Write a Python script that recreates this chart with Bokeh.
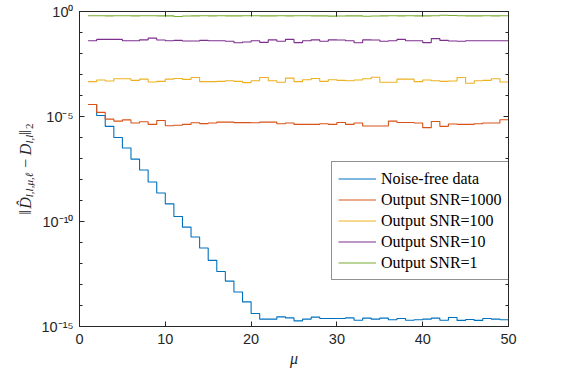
import math
from bokeh.plotting import figure
from bokeh.layouts import row
from bokeh.models import (FixedTicker, LinearAxis, LogAxis, Legend, LegendItem,
                          Range1d, CustomJSTickFormatter)
from bokeh.core.properties import value
from bokeh.embed import file_html
from bokeh.resources import INLINE

# ---------------- data ----------------
mu = list(range(1, 51))

noise_free = [3.72e-5, 1.12e-5, 3.39e-6, 1.0e-6, 3.16e-7, 9.33e-8, 2.82e-8, 7.59e-9, 2.29e-9, 6.92e-10,
              1.74e-10, 5.37e-11, 1.82e-11, 5.5e-12, 1.41e-12, 4.17e-13, 1.45e-13, 4.37e-14, 1.48e-14, 4.17e-15,
              2.24e-15, 2.24e-15, 2.88e-15, 2.57e-15, 1.86e-15, 2.24e-15, 2.79e-15, 2.40e-15, 2.40e-15, 2.40e-15,
              2.57e-15, 2.0e-15, 2.5e-15, 2.24e-15, 2.5e-15, 2.09e-15, 2.40e-15, 2.0e-15, 2.09e-15, 2.24e-15,
              2.5e-15, 2.0e-15, 2.69e-15, 1.95e-15, 2.16e-15, 1.95e-15, 2.40e-15, 2.24e-15, 2.09e-15, 2.16e-15]

snr1000 = [3.72e-5, 1.58e-5, 7.5e-6, 6.0e-6, 6.9e-6, 4.9e-6, 5.6e-6, 4.2e-6, 6.5e-6, 3.6e-6,
           3.8e-6, 4.2e-6, 5.0e-6, 4.6e-6, 4.9e-6, 5.4e-6, 5.4e-6, 5.1e-6, 5.1e-6, 5.0e-6,
           5.4e-6, 5.4e-6, 4.5e-6, 4.9e-6, 4.2e-6, 4.2e-6, 4.2e-6, 4.5e-6, 4.2e-6, 5.2e-6,
           4.2e-6, 4.9e-6, 3.5e-6, 3.5e-6, 3.5e-6, 6.0e-6, 5.2e-6, 5.2e-6, 4.9e-6, 2.95e-6,
           5.8e-6, 3.4e-6, 4.4e-6, 4.2e-6, 4.2e-6, 4.5e-6, 4.9e-6, 4.9e-6, 7.0e-6, 7.0e-6]

snr100 = [4.57e-4, 5.45e-4, 4.9e-4, 6.25e-4, 6.25e-4, 5.25e-4, 6.0e-4, 4.4e-4, 4.73e-4, 6.0e-4,
          6.46e-4, 5.83e-4, 7.2e-4, 4.57e-4, 4.57e-4, 4.73e-4, 5.07e-4, 4.73e-4, 4.12e-4, 5.07e-4,
          7.2e-4, 5.07e-4, 4.27e-4, 6.7e-4, 4.57e-4, 5.63e-4, 6.46e-4, 4.73e-4, 5.63e-4, 5.25e-4,
          5.07e-4, 5.45e-4, 6.25e-4, 7.45e-4, 4.27e-4, 4.27e-4, 6.0e-4, 6.0e-4, 4.57e-4, 5.45e-4,
          5.07e-4, 4.73e-4, 4.9e-4, 7.2e-4, 3.84e-4, 5.07e-4, 5.25e-4, 6.25e-4, 4.4e-4, 5.83e-4]

snr10 = [0.0407, 0.0468, 0.0468, 0.0468, 0.0407, 0.0407, 0.0447, 0.0537, 0.0437, 0.0407,
         0.042, 0.0394, 0.0394, 0.042, 0.0407, 0.0407, 0.038, 0.0324, 0.0355, 0.0407,
         0.034, 0.0447, 0.038, 0.0468, 0.033, 0.0407, 0.0447, 0.038, 0.0447, 0.0437,
         0.0407, 0.0324, 0.0447, 0.0437, 0.038, 0.0407, 0.0468, 0.0407, 0.0407, 0.033,
         0.0513, 0.042, 0.0394, 0.038, 0.0407, 0.0407, 0.0407, 0.0407, 0.0407, 0.0407]

snr1 = [0.63, 0.63, 0.62, 0.63, 0.63, 0.62, 0.63, 0.63, 0.62, 0.62,
        0.58, 0.61, 0.62, 0.63, 0.62, 0.63, 0.62, 0.62, 0.63, 0.63,
        0.62, 0.62, 0.63, 0.62, 0.63, 0.63, 0.62, 0.62, 0.60, 0.61,
        0.62, 0.62, 0.59, 0.61, 0.62, 0.63, 0.62, 0.63, 0.62, 0.62,
        0.63, 0.66, 0.64, 0.63, 0.62, 0.62, 0.63, 0.62, 0.63, 0.63]

series_labels = ["Noise-free data", "Output SNR=1000", "Output SNR=100", "Output SNR=10", "Output SNR=1"]
series_values = [noise_free, snr1000, snr100, snr10, snr1]
series_colors = ["#0072BD", "#D95319", "#EDB120", "#7E2F8E", "#77AC30"]

x_ticks = [0, 10, 20, 30, 40, 50]
y_major = [1e-15, 1e-10, 1e-5, 1e0]
y_major_exp = ["-15", "-10", "-5", "0"]
y_minor = [1e-14, 1e-13, 1e-12, 1e-11, 1e-9, 1e-8, 1e-7, 1e-6, 1e-4, 1e-3, 1e-2, 1e-1]
x_label = "μ"

# ---------------- layout constants ----------------
AX = "#262626"
SANS = "Liberation Sans"
SERIF = "Liberation Serif"
W, H = 562, 384
STRIP = 36                      # narrow strip that carries the y-axis label
LEFT, RIGHT, TOP, BOTTOM = 79, 54, 11, 58
FRAME_H = H - TOP - BOTTOM

# ---------------- main figure ----------------
p = figure(width=W - STRIP, height=H, y_axis_type="log",
           x_range=Range1d(0, 50), y_range=Range1d(1e-15, 1),
           output_backend="svg", toolbar_location=None,
           min_border_left=LEFT - STRIP, min_border_right=RIGHT,
           min_border_top=TOP, min_border_bottom=BOTTOM)
p.background_fill_color = "white"
p.border_fill_color = "white"
p.outline_line_color = AX
p.xgrid.visible = False
p.ygrid.visible = False

xt = FixedTicker(ticks=x_ticks, minor_ticks=[])
yt = FixedTicker(ticks=y_major, minor_ticks=y_minor)
blank = CustomJSTickFormatter(code="return ''")

sup_map = str.maketrans("-0123456789", "\u207b\u2070\u00b9\u00b2\u00b3\u2074\u2075\u2076\u2077\u2078\u2079")
y_tick_labels = ["10" + e.translate(sup_map) for e in y_major_exp]
y_fmt = CustomJSTickFormatter(args=dict(tvals=y_major, tlabels=y_tick_labels), code="""
    for (let i = 0; i < tvals.length; i++) {
        if (Math.abs(Math.log10(tvals[i]) - Math.log10(tick)) < 1e-6) { return tlabels[i]; }
    }
    return '';
""")


def style(ax, shown):
    ax.axis_line_color = AX
    ax.axis_line_width = 1
    ax.major_tick_line_color = AX
    ax.minor_tick_line_color = AX
    ax.major_tick_in = 5
    ax.major_tick_out = 0
    ax.minor_tick_in = 3
    ax.minor_tick_out = 0
    ax.major_label_text_color = AX
    ax.major_label_text_font = SANS
    if shown:
        ax.major_label_text_font_size = "14.5px"
    else:
        ax.formatter = blank
        ax.major_label_text_font_size = "1px"
        ax.major_label_standoff = 0


p.xaxis.ticker = xt
style(p.xaxis[0], True)
p.xaxis.major_label_standoff = 7
p.xaxis.axis_label = x_label
p.xaxis.axis_label_text_font = SERIF
p.xaxis.axis_label_text_font_style = "italic"
p.xaxis.axis_label_text_font_size = "16px"
p.xaxis.axis_label_text_color = AX
p.xaxis.axis_label_standoff = 3

p.yaxis.ticker = yt
style(p.yaxis[0], True)
p.yaxis.formatter = y_fmt
p.yaxis.major_label_standoff = 6

top = LinearAxis(ticker=xt)
style(top, False)
p.add_layout(top, "above")
right = LogAxis(ticker=yt)
style(right, False)
p.add_layout(right, "right")

items = []
for lab, vals, col in zip(series_labels, series_values, series_colors):
    r = p.step(mu, vals, mode="after", line_color=col, line_width=1.1)
    items.append(LegendItem(label=lab, renderers=[r]))

legend = Legend(items=items, location=(252, 46), orientation="vertical",
                label_text_font=SERIF, label_text_font_size="16px", label_text_color="black",
                glyph_width=38, glyph_height=21, label_height=21, label_standoff=5,
                spacing=0, padding=6, margin=0,
                border_line_color=AX, border_line_width=1,
                background_fill_color="white", background_fill_alpha=1)
p.add_layout(legend)

# ---------------- left strip: LaTeX-like y-axis label ----------------
lf = figure(width=STRIP, height=H,
            x_range=Range1d(0, STRIP), y_range=Range1d(0, FRAME_H),
            x_axis_location=None, y_axis_location=None,
            output_backend="svg", toolbar_location=None,
            min_border_left=0, min_border_right=0, min_border_top=TOP, min_border_bottom=BOTTOM)
lf.outline_line_color = None
lf.background_fill_color = "white"
lf.border_fill_color = "white"
lf.grid.visible = False

MAIN, SUB = 16.0, 11.0
w_serif = {"‖": 0.36, "D": 0.722, "\u0302": 0.0, "l": 0.278, ",": 0.25, "μ": 0.56, "ℓ": 0.5,
           "−": 0.564, "2": 0.5}
# (text, size, style, subscript?, gap after in em of main size)
pieces = [("‖", MAIN, "normal", False, 0.0), ("D\u0302", MAIN, "italic", False, 0.0),
          ("l,l,μ,ℓ", SUB, "italic", True, 0.22), ("−", MAIN, "normal", False, 0.22),
          ("D", MAIN, "italic", False, 0.0), ("l,l", SUB, "italic", True, 0.0),
          ("‖", MAIN, "normal", False, 0.0), ("2", SUB, "normal", True, 0.0)]
advances = [sum(w_serif.get(c, 0.5) for c in t) * s + g * MAIN for t, s, _, _, g in pieces]
total = sum(advances)
pos = FRAME_H / 2 - total / 2
BASE_X = 25
for (t, s, st, is_sub, g), adv in zip(pieces, advances):
    lf.text(x=[BASE_X + (3.5 if is_sub else 0)], y=[pos], text=[t],
            angle=math.pi / 2, text_align="left", text_baseline="alphabetic",
            text_font=value(SERIF), text_font_style=st, text_font_size=f"{s}px", text_color=AX)
    pos += adv

layout = row(lf, p, spacing=0)
open("out.html", "w").write(file_html(layout, INLINE))
